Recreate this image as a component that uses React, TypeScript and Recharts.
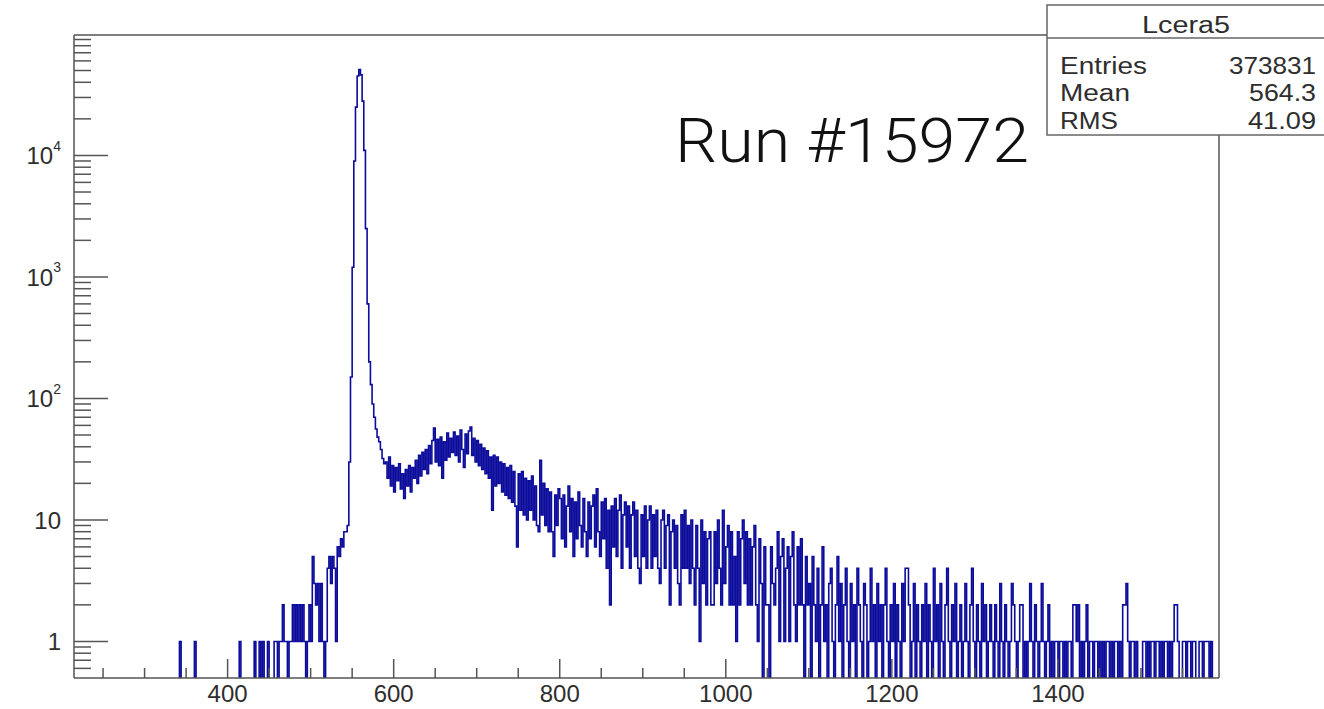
import React from 'react';
import { ComposedChart, Line, XAxis, YAxis, ReferenceLine } from 'recharts';

// histogram binning (2 units per bin), first bin low edge
const BIN_START = 338;
const BIN_WIDTH = 2;

// counts per bin
const riseCounts = [
  0, 0, 1, 0, 0, 0, 0, 0, 0, 0, 0, 1,
  0, 0, 0, 0, 0, 0, 0, 0, 0, 0, 0, 0, 0, 0, 0, 0, 0, 0, 0, 0, 0, 0, 0, 0, 0, 0,
  1,
  0, 0, 0, 0, 0, 0, 0, 0,
  1, 0, 0, 1, 0, 1, 0, 0, 1, 0, 0, 0,
  1, 1, 0, 1, 1, 2, 1, 1, 0, 1, 1, 2, 1, 2, 1, 2, 1, 2, 1, 0, 1, 2,
  1, 5, 3, 2, 3, 1, 3, 1, 0, 1, 4, 5, 3, 5, 4, 1, 6, 5, 7, 6, 8, 8, 9,
];

const peakCounts = [
  30, 150, 1200, 9000, 25000, 45000, 51000, 46000, 28000, 11000, 2500,
  600, 200, 130, 90, 70, 56, 48, 44, 38, 32, 29,
];

const bumpCounts = [
  30, 22, 33, 19, 28, 17, 27, 21, 29, 18,
  24, 15, 26, 19, 28, 17, 27, 22, 31, 20,
  34, 23, 36, 26, 38, 24, 41, 29, 45, 57,
  30, 46, 28, 48, 22, 44, 31, 52, 33, 47,
  36, 53, 34, 49, 30, 55, 38, 27, 51, 35,
  54, 58, 34, 47, 30, 45, 28, 42, 26, 39,
  24, 37, 22, 33, 12, 34, 19, 33, 20, 30,
  17, 29, 16, 27, 15, 28, 14, 25, 13, 6,
  24, 12, 25, 11, 22, 10, 21, 12, 23, 10,
  19, 9, 8, 31, 11, 20, 9, 18, 8, 17,
  8, 5, 16, 9, 18,
];

const decayCounts = [
  15, 7, 16, 6, 13, 19, 8, 15, 5, 14,
  7, 17, 9, 6, 15, 8, 5, 14, 7, 13,
  16, 6, 18, 8, 5, 14, 7, 15, 4, 12,
  2, 13, 6, 15, 5, 12, 16, 4, 11, 14,
  6, 13, 4, 11, 14, 5, 12, 4, 3, 11,
  5, 13, 4, 10, 13, 4, 11, 5, 12, 4,
  3, 10, 12, 4, 9, 11, 2, 8, 10, 4,
  9, 3, 2, 11, 4, 12, 4, 9, 3, 10,
  4, 2, 9, 4, 1, 10, 3, 8, 2, 7,
  8, 2, 2, 8, 3, 10, 4, 2, 12, 3,
  6, 9, 2, 8, 2, 5, 1, 8, 2, 7,
  10, 3, 8, 2, 7, 2, 6, 9, 2, 1,
  7, 3, 0, 6, 2, 2, 0, 6, 3, 2,
  4, 8, 1, 5, 7, 1, 4, 6, 1, 5,
  8, 2, 1, 6, 2, 7, 2, 0, 5, 2,
];

const tailCounts = [
  3, 0, 5, 2, 1, 4, 0, 2, 6, 1,
  2, 0, 3, 4, 1, 0, 2, 5, 1, 3,
  0, 2, 4, 1, 0, 3, 1, 2, 0, 4,
  2, 1, 0, 3, 2, 0, 1, 4, 1, 2,
  0, 3, 1, 2, 0, 2, 4, 1, 0, 2,
  1, 3, 0, 2, 1, 0, 3, 1, 4, 4,
  2, 0, 1, 3, 0, 2, 1, 0, 2, 1,
  3, 0, 2, 1, 0, 4, 1, 2, 0, 3,
  1, 0, 2, 4, 1, 0, 2, 1, 3, 0,
  1, 2, 0, 1, 3, 1, 0, 2, 4, 1,
  0, 2, 1, 0, 3, 1, 2, 0, 1, 2,
  1, 0, 2, 1, 0, 3, 1, 0, 2, 1,
  0, 1, 3, 2, 1, 0, 1, 2, 2, 0,
  1, 0, 1, 3, 1, 0, 2, 1, 0, 1,
  3, 1, 0, 1, 2, 0, 1, 0, 1, 1,
  0, 1, 1, 0, 1, 0, 1, 1, 0, 2,
  2, 1, 2, 0, 1, 0, 1, 2, 0, 1,
  1, 0, 1, 1, 0, 1, 0, 1, 0, 1,
  1, 0, 1, 0, 1, 1, 0, 1, 0, 2,
  2, 3, 1, 0, 1, 1, 0, 1, 0, 0,
  0, 1, 1, 0, 1, 0, 1, 1, 0, 1,
  1, 0, 1, 0, 1, 1, 0, 1, 0, 1,
  2, 2, 1, 0, 0, 1, 1, 0, 1, 1,
  0, 1, 1, 0, 0, 1, 1, 0, 1, 1,
  1, 0, 1, 0, 0,
];

// axis ticks
const X_TICKS = [250, 300, 350, 400, 450, 500, 550, 600, 650, 700, 750, 800, 850, 900, 950,
  1000, 1050, 1100, 1150, 1200, 1250, 1300, 1350, 1400, 1450, 1500, 1550];
const X_MAJOR = [400, 600, 800, 1000, 1200, 1400];
const Y_MAJOR = [1, 10, 100, 1000, 10000];
const Y_MINOR = [0.6, 0.7, 0.8, 0.9, 2, 3, 4, 5, 6, 7, 8, 9, 20, 30, 40, 50, 60, 70, 80, 90,
  200, 300, 400, 500, 600, 700, 800, 900, 2000, 3000, 4000, 5000, 6000, 7000, 8000, 9000,
  20000, 30000, 40000, 50000, 60000, 70000, 80000, 90000];

// stats box rows
const STAT_TITLE = 'Lcera5';
const STAT_NAMES = ['Entries', 'Mean', 'RMS'];
const STAT_VALUES = ['373831', '564.3', '41.09'];

const X_DOMAIN: [number, number] = [215, 1594];
const Y_DOMAIN: [number, number] = [0.5, 98000];
// empty bins sit below the log axis floor, like ROOT does
const LOG_FLOOR = 0.3;

const allCounts = [...riseCounts, ...peakCounts, ...bumpCounts, ...decayCounts, ...tailCounts];
const data = allCounts.map((count, i) => ({ x: BIN_START + i * BIN_WIDTH, count }));
data.push({ x: BIN_START + allCounts.length * BIN_WIDTH, count: 0 });

const W = 1324;
const H = 709;
const MARGIN = { top: 35, right: 105, bottom: 0, left: 0 };
const Y_AXIS_W = 74;
const X_AXIS_H = 31;
const PLOT_LEFT = MARGIN.left + Y_AXIS_W;
const PLOT_BOTTOM = H - MARGIN.bottom - X_AXIS_H;

const AXIS_COLOR = '#555';
const TEXT_COLOR = '#2e2e2e';
const HIST_COLOR = '#0c0c9c';
const FONT = '"Liberation Sans", Arial, Helvetica, sans-serif';

function XTick(props: any) {
  const { x, payload } = props;
  const major = X_MAJOR.includes(payload.value);
  return (
    <g>
      <line x1={x} x2={x} y1={PLOT_BOTTOM} y2={PLOT_BOTTOM - (major ? 19 : 10)} stroke={AXIS_COLOR} strokeWidth={1.5} />
      {major && (
        <text x={x} y={PLOT_BOTTOM + 24} textAnchor="middle" fontSize={24} fontFamily={FONT} fill={TEXT_COLOR}>
          {payload.value}
        </text>
      )}
    </g>
  );
}

function YTick(props: any) {
  const { y, payload } = props;
  const v = payload.value;
  const major = Y_MAJOR.includes(v);
  const exp = Math.round(Math.log10(v));
  return (
    <g>
      <line x1={PLOT_LEFT} x2={PLOT_LEFT + (major ? 34 : 17)} y1={y} y2={y} stroke={AXIS_COLOR} strokeWidth={1.5} />
      {major && (
        <text x={61} y={y} dy="0.36em" textAnchor="end" fontSize={24} fontFamily={FONT} fill={TEXT_COLOR}>
          {exp === 0 ? '1' : '10'}
          {exp > 1 && (
            <tspan fontSize={14} dy="-0.95em">{exp}</tspan>
          )}
        </text>
      )}
    </g>
  );
}

const STAT_ROW_Y = [74, 101, 129];
const STAT_NAME_W = [87, 70, 58];
const STAT_VALUE_W = [87, 67, 68];

export default function App() {
  return (
    <div style={{ position: 'absolute', left: 0, top: 0, width: W, height: H, background: '#fff' }}>
      <ComposedChart width={W} height={H} data={data} margin={MARGIN}>
        <XAxis
          type="number"
          dataKey="x"
          domain={X_DOMAIN}
          allowDataOverflow
          ticks={X_TICKS}
          interval={0}
          tickLine={false}
          tickSize={0}
          tickMargin={0}
          tick={(p: any) => <XTick {...p} />}
          axisLine={{ stroke: AXIS_COLOR, strokeWidth: 1.5 }}
          height={X_AXIS_H}
        />
        <YAxis
          type="number"
          scale="log"
          domain={Y_DOMAIN}
          allowDataOverflow
          ticks={[...Y_MINOR, ...Y_MAJOR].sort((a, b) => a - b)}
          interval={0}
          tickLine={false}
          tickSize={0}
          tickMargin={0}
          tick={(p: any) => <YTick {...p} />}
          axisLine={{ stroke: AXIS_COLOR, strokeWidth: 1.5 }}
          width={Y_AXIS_W}
        />
        <ReferenceLine y={Y_DOMAIN[1]} stroke={AXIS_COLOR} strokeWidth={1.5} />
        <ReferenceLine x={X_DOMAIN[1]} stroke={AXIS_COLOR} strokeWidth={1.5} />
        <Line
          type="stepAfter"
          dataKey={(d: any) => (d.count > 0 ? d.count : LOG_FLOOR)}
          stroke={HIST_COLOR}
          strokeWidth={1.6}
          dot={false}
          activeDot={false}
          isAnimationActive={false}
        />
      </ComposedChart>
      <svg width={W} height={H} style={{ position: 'absolute', left: 0, top: 0, pointerEvents: 'none' }}>
        <text x={675} y={162} fontSize={61} fontWeight={300} fontFamily='Roboto, "Liberation Sans", sans-serif'
          fill="#111" textLength={354} lengthAdjust="spacingAndGlyphs">
          Run #15972
        </text>
        <rect x={1047} y={5} width={300} height={130} fill="#fff" stroke="#666" strokeWidth={1.5} />
        <line x1={1047} x2={W} y1={38} y2={38} stroke="#666" strokeWidth={1.5} />
        <g fontFamily={FONT} fontSize={23} fill={TEXT_COLOR}>
          <text x={1142} y={33} fontSize={23} textLength={88} lengthAdjust="spacingAndGlyphs">{STAT_TITLE}</text>
          {STAT_NAMES.map((name, i) => (
            <text key={name} x={1060} y={STAT_ROW_Y[i]} textLength={STAT_NAME_W[i]} lengthAdjust="spacingAndGlyphs">
              {name}
            </text>
          ))}
          {STAT_VALUES.map((val, i) => (
            <text key={val} x={1316 - STAT_VALUE_W[i]} y={STAT_ROW_Y[i]} textLength={STAT_VALUE_W[i]} lengthAdjust="spacingAndGlyphs">
              {val}
            </text>
          ))}
        </g>
      </svg>
    </div>
  );
}
